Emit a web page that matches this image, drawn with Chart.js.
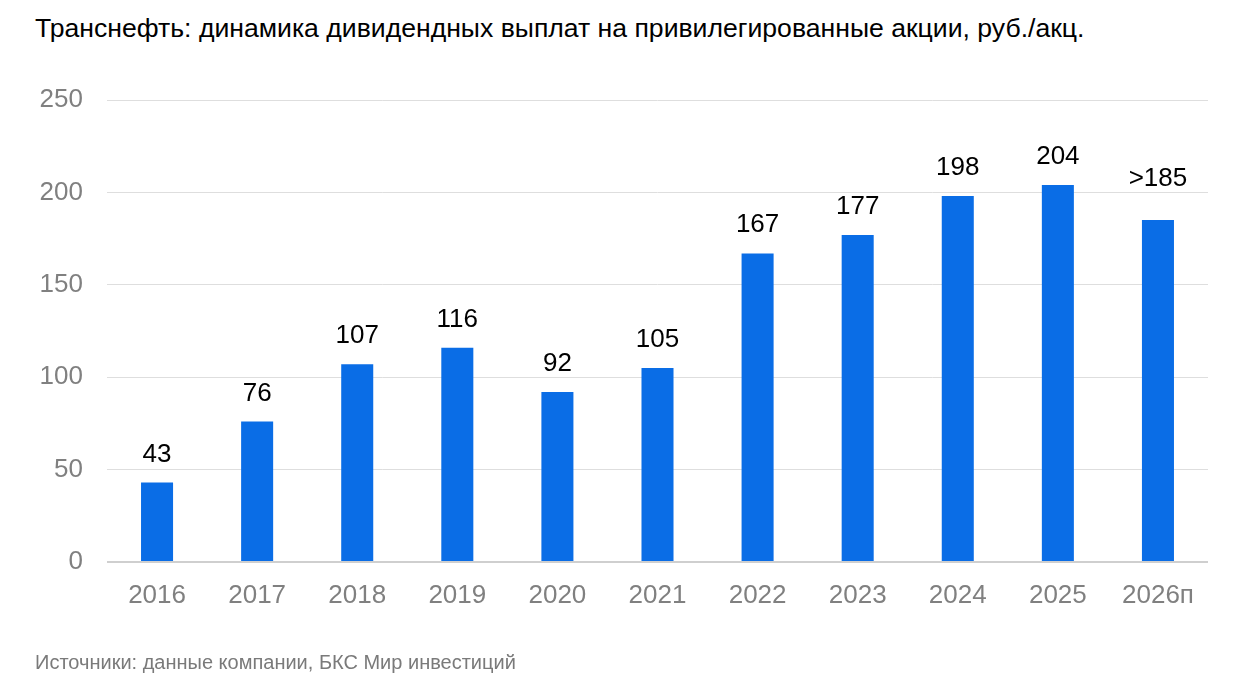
<!DOCTYPE html>
<html>
<head>
<meta charset="utf-8">
<script src="https://cdn.jsdelivr.net/npm/chart.js@4.4.1/dist/chart.umd.min.js"></script>
<style>
  body { margin: 0; background: #fff; font-family: "Liberation Sans", Arial, sans-serif; }
  #wrap { position: relative; width: 1252px; height: 689px; overflow: hidden; }
  #title { position: absolute; left: 35px; top: 13px; font-size: 26.6px; color: #000; white-space: nowrap; }
  #source { position: absolute; left: 35px; top: 651px; font-size: 20px; color: #7a7a7a; white-space: nowrap; }
  canvas { position: absolute; left: 0; top: 0; }
</style>
</head>
<body>
<div id="wrap">
  <div id="title">Транснефть: динамика дивидендных выплат на привилегированные акции, руб./акц.</div>
  <canvas id="chart" width="1252" height="689"></canvas>
  <div id="source">Источники: данные компании, БКС Мир инвестиций</div>
</div>
<script>
const years = ['2016', '2017', '2018', '2019', '2020', '2021', '2022', '2023', '2024', '2025', '2026п'];
const dividends = [43, 76, 107, 116, 92, 105, 167, 177, 198, 204, 185];
const valueLabels = ['43', '76', '107', '116', '92', '105', '167', '177', '198', '204', '>185'];

// Draws the value above each bar (the forecast label sits a bit higher)
const barLabels = {
  id: 'barLabels',
  afterDatasetsDraw(chart) {
    const ctx = chart.ctx;
    const meta = chart.getDatasetMeta(0);
    ctx.save();
    ctx.font = '26px "Liberation Sans", Arial, sans-serif';
    ctx.fillStyle = '#000';
    ctx.textAlign = 'center';
    ctx.textBaseline = 'alphabetic';
    meta.data.forEach((bar, i) => {
      const gap = valueLabels[i].startsWith('>') ? 34 : 21;
      ctx.fillText(valueLabels[i], bar.x, bar.y - gap);
    });
    ctx.restore();
  },
};

const ctx = document.getElementById('chart').getContext('2d');
new Chart(ctx, {
  type: 'bar',
  data: {
    labels: years,
    datasets: [
      {
        data: dividends,
        backgroundColor: '#0a6de6',
        barPercentage: 0.32,
        categoryPercentage: 1,
      },
    ],
  },
  options: {
    responsive: false,
    animation: false,
    layout: { padding: { top: 100, right: 44, bottom: 0, left: 0 } },
    plugins: {
      legend: { display: false },
      tooltip: { enabled: false },
    },
    scales: {
      x: {
        grid: { display: false },
        border: { display: false },
        ticks: {
          color: '#808080',
          padding: 10,
          font: { family: '"Liberation Sans", Arial, sans-serif', size: 26 },
        },
        afterFit(scale) { scale.height = 127; },
      },
      y: {
        min: 0,
        max: 250,
        border: { display: false },
        grid: {
          drawTicks: false,
          color: (c) => (c.tick.value === 0 ? '#cfcfcf' : '#dedede'),
          lineWidth: (c) => (c.tick.value === 0 ? 2 : 1),
        },
        ticks: {
          stepSize: 50,
          color: '#808080',
          padding: 24,
          font: { family: '"Liberation Sans", Arial, sans-serif', size: 26 },
        },
        afterFit(scale) { scale.width = 107; },
      },
    },
  },
  plugins: [barLabels],
});
</script>
</body>
</html>
